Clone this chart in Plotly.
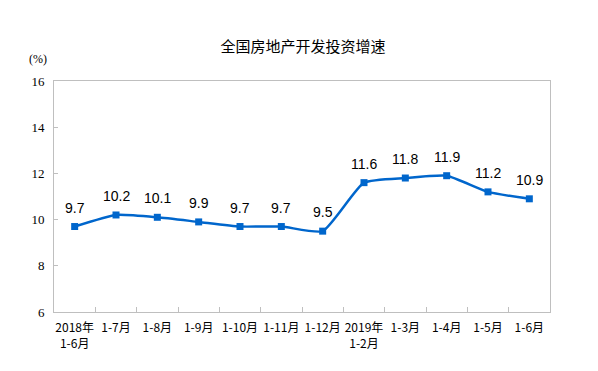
import plotly.graph_objects as go

categories = ["2018年<br>1-6月", "1-7月", "1-8月", "1-9月", "1-10月", "1-11月", "1-12月",
              "2019年<br>1-2月", "1-3月", "1-4月", "1-5月", "1-6月"]
values = [9.7, 10.2, 10.1, 9.9, 9.7, 9.7, 9.5, 11.6, 11.8, 11.9, 11.2, 10.9]
y_ticks = [6, 8, 10, 12, 14, 16]

fig = go.Figure()
fig.add_trace(go.Scatter(
    x=categories, y=values,
    mode="lines+markers",
    line=dict(color="#0066CC", width=2.5, shape="spline", smoothing=0.5),
    marker=dict(symbol="square", size=7, color="#0066CC"),
    cliponaxis=False,
))

annotations = [dict(x=c, y=v, text=f"{v:.1f}", showarrow=False, yshift=19,
                    xanchor="center", yanchor="middle",
                    font=dict(family="Liberation Sans, Arial, sans-serif", size=14, color="#000000"))
               for c, v in zip(categories, values)]
annotations.append(dict(text="(%)", x=-0.032, y=1.095, xref="paper", yref="paper", showarrow=False,
                        xanchor="center", yanchor="middle",
                        font=dict(family="Liberation Serif, serif", size=12, color="#000000")))

# page body adds an 8px offset, so the figure is sized/margined to compensate
fig.update_layout(
    width=590, height=363,
    margin=dict(l=46, r=48, t=73, b=59),
    paper_bgcolor="white", plot_bgcolor="white",
    showlegend=False,
    title=dict(text="全国房地产开发投资增速", x=0.5, xanchor="center", y=0.893, yanchor="middle",
               font=dict(family="Noto Sans CJK SC, sans-serif", size=15, color="#000000")),
    annotations=annotations,
)

fig.update_xaxes(
    type="category", range=[-0.5, 11.5], automargin=False, tickangle=0,
    showline=True, mirror=True, linecolor="#BFBFBF", linewidth=1,
    ticks="inside", tickson="boundaries", ticklen=5, tickcolor="#BFBFBF",
    showgrid=False, zeroline=False, ticklabelstandoff=5,
    tickfont=dict(family="Noto Sans CJK SC, serif", size=12, color="#000000"),
)
fig.update_yaxes(
    range=[6, 16], tickvals=y_ticks, automargin=False,
    showline=True, mirror=True, linecolor="#BFBFBF", linewidth=1,
    ticks="inside", ticklen=4, tickcolor="#BFBFBF",
    showgrid=False, zeroline=False, ticklabelstandoff=6,
    tickfont=dict(family="Liberation Serif, serif", size=13, color="#000000"),
)

fig.write_html("out.html")
